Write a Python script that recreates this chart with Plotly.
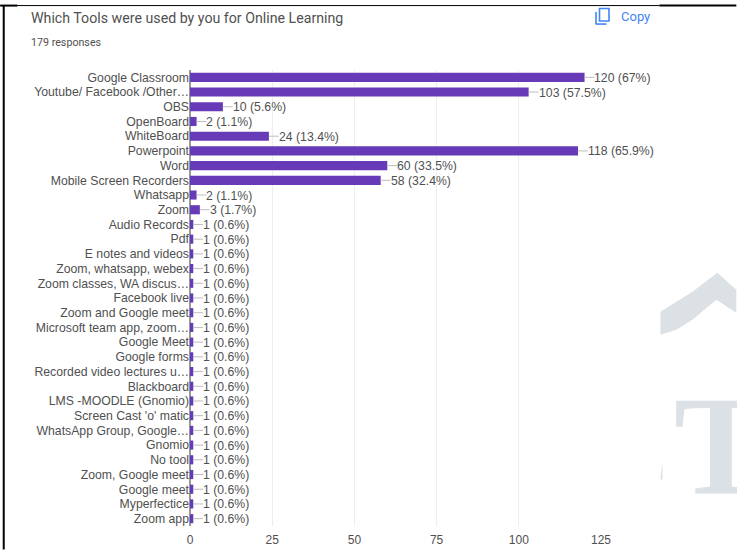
import plotly.graph_objects as go

tools = [
    "Google Classroom", "Youtube/ Facebook /Other…", "OBS", "OpenBoard", "WhiteBoard",
    "Powerpoint", "Word", "Mobile Screen Recorders", "Whatsapp", "Zoom",
    "Audio Records", "Pdf", "E notes and videos", "Zoom, whatsapp, webex",
    "Zoom classes, WA discus…", "Facebook live", "Zoom and Google meet",
    "Microsoft team app, zoom…", "Google Meet", "Google forms",
    "Recorded video lectures u…", "Blackboard", "LMS -MOODLE (Gnomio)",
    "Screen Cast 'o' matic", "WhatsApp Group, Google…", "Gnomio", "No tool",
    "Zoom, Google meet", "Google meet", "Myperfectice", "Zoom app",
]
counts = [120, 103, 10, 2, 24, 118, 60, 58, 2, 3] + [1] * 21
shares = ["67%", "57.5%", "5.6%", "1.1%", "13.4%", "65.9%", "33.5%", "32.4%", "1.1%", "1.7%"] + ["0.6%"] * 21
value_ticks = [0, 25, 50, 75, 100, 125]

WIDTH, HEIGHT = 737, 550
LEFT, RIGHT, TOP, BOTTOM = 190, 601.5, 70, 526.5
LEADER = 3.0  # length of the leader line, in response counts
BAR = "#673ab7"
INK = "#505050"
BLUE = "#4285f4"
MARK = "#dbe1e5"


def px(x):
    return (x - LEFT) / (RIGHT - LEFT)


def py(y):
    return 1 - (y - TOP) / (BOTTOM - TOP)


def paper_line(x0, y0, x1, y1, color, width):
    return dict(type="line", xref="paper", yref="paper", x0=px(x0), x1=px(x1),
                y0=py(y0), y1=py(y1), line=dict(color=color, width=width), layer="above")


def paper_path(points, color):
    d = "M " + " L ".join(f"{px(x):.5f},{py(y):.5f}" for x, y in points) + " Z"
    return dict(type="path", xref="paper", yref="paper", path=d,
                fillcolor=color, line_width=0, layer="below")


fig = go.Figure()
fig.add_bar(
    y=tools, x=counts, orientation="h", width=0.62,
    marker=dict(color=BAR, line_width=0),
    error_x=dict(type="data", symmetric=False, array=[LEADER] * len(counts),
                 arrayminus=[0] * len(counts), color="#bdbdbd", thickness=1, width=0),
    hoverinfo="skip",
)

shapes = [
    # page edges
    paper_line(3.5, 5, 3.5, 550, "#000000", 2),
    paper_line(0, 5.5, 660, 5.5, "#000000", 1),
    paper_line(0, 5.5, 17, 5.5, "#000000", 2),
    paper_line(660, 5.5, 737, 5.5, "#000000", 2),
    # copy icon
    dict(type="rect", xref="paper", yref="paper", x0=px(600), x1=px(609.5), y0=py(8.5), y1=py(21),
         fillcolor="rgba(0,0,0,0)", line=dict(color=BLUE, width=1.6), layer="above"),
    paper_line(596.5, 12, 596.5, 24, BLUE, 1.6),
    paper_line(596, 24, 607, 24, BLUE, 1.6),
    # background emblem
    paper_path([(661, 312), (693, 292), (718, 273), (737, 290), (737, 313), (717, 300),
                (693, 320), (677, 330), (661, 335)], MARK),
    paper_path([(661, 480), (663, 462), (663, 480)], MARK),
]

annotations = [
    dict(text="Which Tools were used by you for Online Learning", xref="paper", yref="paper",
         x=px(31), y=py(17.5), xanchor="left", yanchor="middle", showarrow=False, xshift=-2,
         font=dict(family="Roboto", size=14.2, color=INK)),
    dict(text="179 responses", xref="paper", yref="paper", x=px(31), y=py(42),
         xanchor="left", yanchor="middle", showarrow=False, xshift=-2,
         font=dict(family="Roboto", size=10.7, color=INK)),
    dict(text="Copy", xref="paper", yref="paper", x=px(621), y=py(16.5),
         xanchor="left", yanchor="middle", showarrow=False, xshift=-1,
         font=dict(family="Roboto", size=13, color=BLUE)),
    dict(text="<b>T</b>", xref="paper", yref="paper", x=px(675), y=py(446.5),
         xanchor="left", yanchor="middle", showarrow=False, xshift=-2,
         font=dict(family="Liberation Serif", size=141, color=MARK)),
]

# count and share beside each bar, just past the leader line
annotations += [
    dict(text=f"{c} ({s})", x=c + LEADER, y=t, xref="x", yref="y", xanchor="left",
         yanchor="middle", showarrow=False, xshift=-2, yshift=-0.5,
         font=dict(family="Liberation Sans", size=12.25, color=INK))
    for t, c, s in zip(tools, counts, shares)
]

fig.update_layout(
    width=WIDTH, height=HEIGHT, autosize=False, showlegend=False,
    margin=dict(l=LEFT, r=WIDTH - RIGHT, t=TOP, b=HEIGHT - BOTTOM, pad=0),
    paper_bgcolor="white", plot_bgcolor="rgba(0,0,0,0)",
    shapes=shapes, annotations=annotations,
    xaxis=dict(range=[0, 125], tickvals=value_ticks, showgrid=True, gridcolor="#eeeeee",
               gridwidth=1, zeroline=True, zerolinecolor="#999999", zerolinewidth=1.5,
               ticks="", automargin=False, ticklabelstandoff=5,
               tickfont=dict(family="Liberation Sans", size=12, color=INK)),
    yaxis=dict(type="category", categoryorder="array", categoryarray=tools,
               range=[30.5, -0.5], tickmode="array", tickvals=tools, ticktext=tools,
               ticks="", showgrid=False, zeroline=False, automargin=False,
               tickfont=dict(family="Liberation Sans", size=12.25, color=INK)),
)

fig.write_html("out.html", config=dict(displayModeBar=False))
